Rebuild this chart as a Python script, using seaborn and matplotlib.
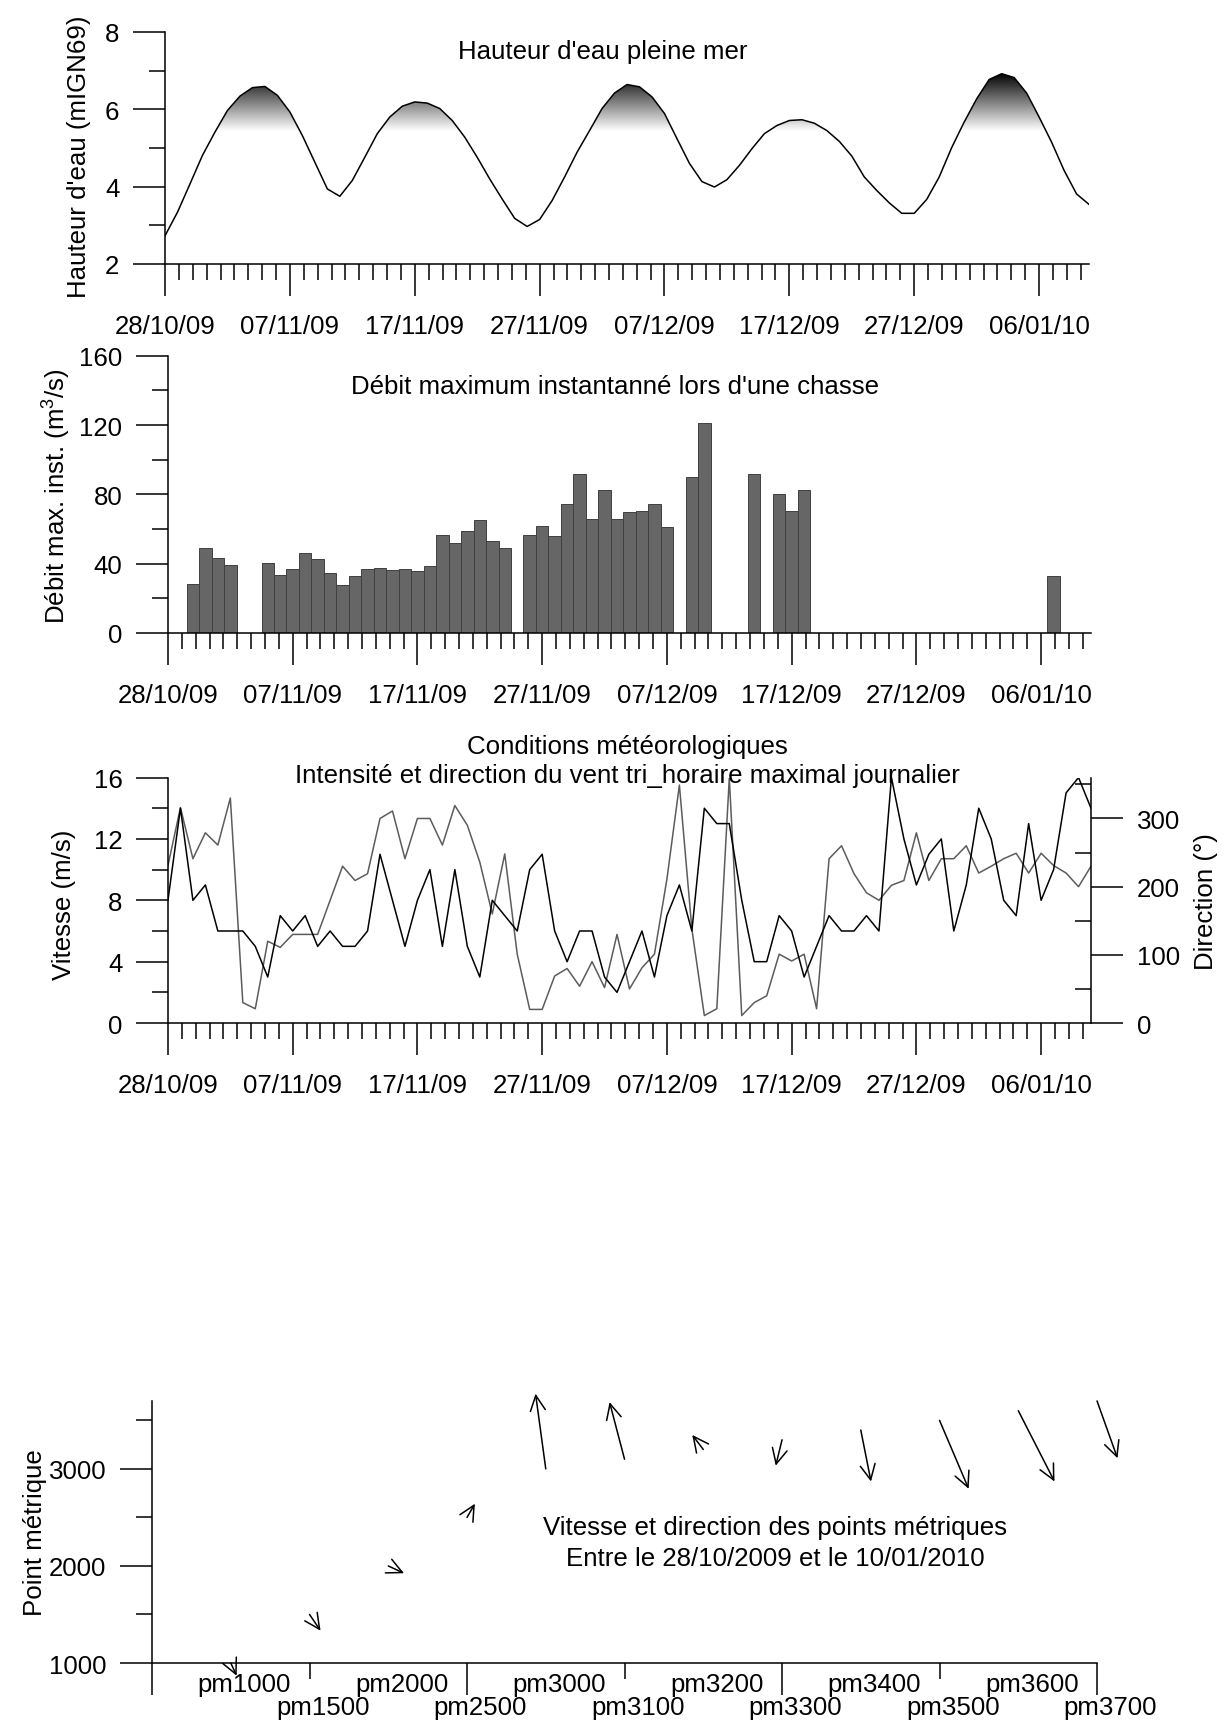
"""
Marées, débits de chasse, vent et vitesses des points métriques
(28/10/2009 - 10/01/2010)
"""

import numpy as np
import pandas as pd
import matplotlib
matplotlib.use('Agg')
import matplotlib.pyplot as plt
import matplotlib.transforms as mtransforms
from matplotlib.path import Path
from matplotlib.ticker import FixedLocator
import seaborn as sns

# ---------------------------------------------------------------- data
start_date = pd.Timestamp('2009-10-28')
days = np.arange(75)

# hauteur d'eau pleine mer (mIGN69), one value per day
tide = [2.73, 3.34, 4.07, 4.81, 5.41, 5.97, 6.34, 6.56, 6.59, 6.36,
        5.93, 5.32, 4.63, 3.94, 3.75, 4.16, 4.76, 5.37, 5.80, 6.08,
        6.19, 6.16, 6.02, 5.71, 5.28, 4.76, 4.20, 3.68, 3.18, 2.97,
        3.15, 3.64, 4.25, 4.89, 5.45, 6.02, 6.42, 6.64, 6.58, 6.32,
        5.89, 5.24, 4.60, 4.13, 3.99, 4.18, 4.55, 4.98, 5.37, 5.58,
        5.71, 5.73, 5.64, 5.45, 5.17, 4.79, 4.25, 3.90, 3.58, 3.31,
        3.31, 3.67, 4.25, 5.01, 5.67, 6.27, 6.77, 6.92, 6.82, 6.42,
        5.80, 5.15, 4.42, 3.81, 3.54]

# débit maximum instantané lors d'une chasse (m3/s), 0 = pas de chasse
debit = [0, 0, 28.2, 48.8, 43.0, 39.2, 0, 0, 40.1, 33.4,
         36.9, 46.1, 42.4, 34.5, 27.8, 32.8, 37.2, 37.6, 36.3, 37.2,
         35.7, 38.8, 56.8, 52.0, 59.1, 65.3, 53.0, 48.8, 0, 56.4,
         62.0, 55.9, 74.7, 91.6, 66.0, 82.7, 65.6, 70.1, 70.4, 74.5,
         61.2, 0, 89.8, 121.5, 0, 0, 0, 91.9, 0, 80.0,
         70.6, 82.3, 0, 0, 0, 0, 0, 0, 0, 0,
         0, 0, 0, 0, 0, 0, 0, 0, 0, 0,
         0, 32.6, 0, 0, 0]

# vent tri-horaire maximal journalier
wind_speed = [8, 14, 8, 9, 6, 6, 6, 5, 3, 7,
              6, 7, 5, 6, 5, 5, 6, 11, 8, 5,
              8, 10, 5, 10, 5, 3, 8, 7, 6, 10,
              11, 6, 4, 6, 6, 3, 2, 4, 6, 3,
              7, 9, 6, 14, 13, 13, 8, 4, 4, 7,
              6, 3, 5, 7, 6, 6, 7, 6, 16, 12,
              9, 11, 12, 6, 9, 14, 12, 8, 7, 13,
              8, 10, 15, 16, 14]
wind_dir = [231, 316, 241, 279, 261, 330, 30, 21, 120, 111,
            130, 130, 130, 180, 230, 209, 219, 300, 311, 241,
            300, 300, 261, 319, 290, 236, 160, 248, 101, 20,
            20, 69, 80, 54, 90, 52, 130, 50, 81, 101,
            211, 349, 138, 11, 21, 359, 11, 30, 40, 101,
            91, 101, 21, 241, 260, 219, 191, 180, 202, 209,
            279, 209, 241, 241, 260, 220, 230, 241, 249, 220,
            249, 231, 220, 200, 230]

# points métriques : vecteur de déplacement
pm_labels = ['pm1000', 'pm1500', 'pm2000', 'pm2500', 'pm3000', 'pm3100',
             'pm3200', 'pm3300', 'pm3400', 'pm3500', 'pm3600', 'pm3700']
pm_values = [1000, 1500, 2000, 2500, 3000, 3100, 3200, 3300, 3400, 3500, 3600, 3700]
arrow_dx = [0.075, 0.14, 0.20, 0.10, -0.13, -0.19, -0.14, -0.08, 0.13, 0.37, 0.46, 0.26]
arrow_dy = [-131, -167, -75, 141, 775, 588, 150, -267, -530, -705, -730, -590]

# ---------------------------------------------------------------- style
FS = 18.6
plt.rcParams.update({
    'font.family': ['Liberation Sans', 'DejaVu Sans'],
    'font.size': FS,
    'mathtext.fontset': 'custom',
    'mathtext.rm': 'Liberation Sans',
    'mathtext.it': 'Liberation Sans:italic',
    'axes.linewidth': 1.1,
    'axes.edgecolor': 'black',
    'xtick.major.width': 1.1,
    'xtick.minor.width': 1.1,
    'ytick.major.width': 1.1,
    'ytick.minor.width': 1.1,
    'xtick.labelsize': FS,
    'ytick.labelsize': FS,
    'xtick.direction': 'out',
    'ytick.direction': 'out',
})
MAJ, MIN = 22.8, 11.4


def date_axis(ax):
    major = np.arange(0, 71, 10)
    ax.set_xticks(major)
    ax.set_xticklabels([(start_date + pd.Timedelta(days=int(d))).strftime('%d/%m/%y')
                        for d in major])
    ax.xaxis.set_minor_locator(FixedLocator(np.arange(0, 74, 10 / 9)))
    ax.set_xlim(0, 74)
    ax.tick_params(axis='x', which='major', length=MAJ, pad=13)
    ax.tick_params(axis='x', which='minor', length=MIN)
    ax.set_xlabel('')


def value_axis(ax, lo, hi, major, minor):
    ax.set_ylim(lo, hi)
    ax.set_yticks(major)
    ax.set_yticklabels([str(v) for v in major])
    ax.yaxis.set_minor_locator(FixedLocator(minor))
    ax.tick_params(axis='y', which='major', length=MAJ, pad=10)
    ax.tick_params(axis='y', which='minor', length=MIN)
    ax.set_ylabel('')
    ax.spines[['top', 'right']].set_visible(False)


fig = plt.figure(figsize=(12.26, 17.24), dpi=100)

# ---------------------------------------------------------------- 1. marée
ax1 = fig.add_axes([0.1346, 0.8463, 0.7537, 0.1346])
tide_arr = np.array(tide)
thr, top = 5.45, 7.0
poly = ax1.fill_between(days, tide_arr, thr, where=tide_arr > thr,
                        interpolate=True, facecolor='none', edgecolor='none')
clip = Path.make_compound_path(*poly.get_paths())
grad = np.linspace(thr, top, 256).reshape(-1, 1)
im = ax1.imshow(grad, extent=[0, 74, thr, top], origin='lower', aspect='auto',
                cmap='gray_r', vmin=thr, vmax=6.95, zorder=1)
im.set_clip_path(clip, transform=ax1.transData)
sns.lineplot(x=days, y=tide, ax=ax1, color='black', linewidth=1.1, zorder=3)
date_axis(ax1)
value_axis(ax1, 2, 8, [2, 4, 6, 8], [3, 5, 7])
ax1.text(0.474, 0.919, "Hauteur d'eau pleine mer", transform=ax1.transAxes,
         ha='center', va='center', fontsize=FS)
ax1.text(-0.093, 0.467, "Hauteur d'eau (mIGN69)", transform=ax1.transAxes,
         rotation=90, ha='center', va='center', fontsize=FS)

# ---------------------------------------------------------------- 2. débit
ax2 = fig.add_axes([0.1370, 0.6323, 0.7529, 0.1607])
bars = pd.DataFrame({'day': days, 'debit': debit})
bars = bars[bars['debit'] > 0]
sns.barplot(data=bars, x='day', y='debit', native_scale=True, width=1,
            color='#666666', saturation=1, edgecolor='#404040', linewidth=0.7,
            ax=ax2)
date_axis(ax2)
value_axis(ax2, 0, 160, [0, 40, 80, 120, 160], [20, 60, 100, 140])
ax2.text(0.484, 0.892, "Débit maximum instantanné lors d'une chasse",
         transform=ax2.transAxes, ha='center', va='center', fontsize=FS)
ax2.text(-0.120, 0.498, 'Débit max. inst. (m$^3$/s)', transform=ax2.transAxes,
         rotation=90, ha='center', va='center', fontsize=FS)

# ---------------------------------------------------------------- 3. vent
ax3 = fig.add_axes([0.1370, 0.4060, 0.7529, 0.1424])
ax3r = ax3.twinx()
sns.lineplot(x=days, y=wind_dir, ax=ax3r, color='#5c5c5c', linewidth=1.1)
sns.lineplot(x=days, y=wind_speed, ax=ax3, color='black', linewidth=1.1)
ax3.set_zorder(ax3r.get_zorder() + 1)
ax3.patch.set_visible(False)
date_axis(ax3)
value_axis(ax3, 0, 16, [0, 4, 8, 12, 16], [2, 6, 10, 14])
ax3r.set_ylim(0, 360)
ax3r.set_yticks([0, 100, 200, 300])
ax3r.set_yticklabels(['0', '100', '200', '300'])
ax3r.yaxis.set_minor_locator(FixedLocator([50, 150, 250, 350]))
ax3r.tick_params(axis='y', which='major', direction='out', length=MAJ, pad=10)
ax3r.tick_params(axis='y', which='minor', direction='in', length=MIN)
ax3r.set_ylabel('')
ax3r.spines[['top', 'left', 'bottom']].set_visible(False)
ax3.text(0.498, 1.128, 'Conditions météorologiques', transform=ax3.transAxes,
         ha='center', va='center', fontsize=FS)
ax3.text(0.498, 1.010, 'Intensité et direction du vent tri_horaire maximal journalier',
         transform=ax3.transAxes, ha='center', va='center', fontsize=FS)
ax3.text(-0.113, 0.485, 'Vitesse (m/s)', transform=ax3.transAxes,
         rotation=90, ha='center', va='center', fontsize=FS)
ax3.text(1.125, 0.497, 'Direction (°)', transform=ax3.transAxes,
         rotation=90, ha='center', va='center', fontsize=FS)

# ---------------------------------------------------------------- 4. points métriques
ax4 = fig.add_axes([0.1240, 0.0348, 0.7708, 0.1520])
ax4.set_xlim(0, 12)
ax4.set_xticks([0, 4, 8, 12])
ax4.set_xticklabels([])
ax4.xaxis.set_minor_locator(FixedLocator([2, 6, 10]))
ax4.tick_params(axis='x', which='major', length=MAJ)
ax4.tick_params(axis='x', which='minor', length=MIN)
value_axis(ax4, 1000, 3700, [1000, 2000, 3000], [1500, 2500, 3500])

for i, (y0, dx, dy) in enumerate(zip(pm_values, arrow_dx, arrow_dy), start=1):
    ax4.annotate('', xy=(i + dx, y0 + dy), xytext=(i, y0),
                 arrowprops=dict(arrowstyle='->,head_length=0.55,head_width=0.27',
                                 mutation_scale=20, lw=1.1, color='black',
                                 shrinkA=0, shrinkB=0),
                 annotation_clip=False)

lab_tr = mtransforms.blended_transform_factory(ax4.transData, ax4.transAxes)
for i, lab in enumerate(pm_labels, start=1):
    ax4.text(i + 0.17, -0.080 if i % 2 else -0.168, lab, transform=lab_tr,
             ha='center', va='center', fontsize=FS)

ax4.text(7.91, 2398, 'Vitesse et direction des points métriques',
         ha='center', va='center', fontsize=FS)
ax4.text(7.91, 2080, 'Entre le 28/10/2009 et le 10/01/2010',
         ha='center', va='center', fontsize=FS)
ax4.text(-0.124, 0.50, 'Point métrique', transform=ax4.transAxes,
         rotation=90, ha='center', va='center', fontsize=FS)

fig.savefig('out.png', dpi=100)
